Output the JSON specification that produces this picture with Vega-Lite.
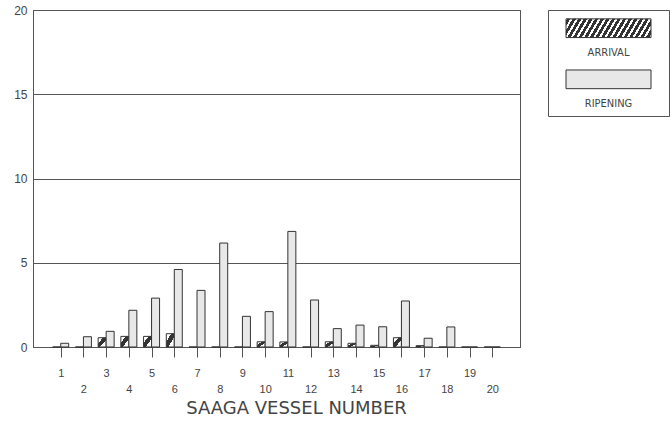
{
  "$schema": "https://vega.github.io/schema/vega-lite/v6.json",
  "background": "white",
  "padding": {"left": 13, "top": 3, "right": 0, "bottom": 0},
  "spacing": 28,
  "bounds": "flush",
  "config": {
    "view": {"stroke": "#555", "strokeWidth": 1},
    "font": "Liberation Sans",
    "axis": {"labelColor": "#444", "titleColor": "#444", "domainColor": "#555", "tickColor": "#555", "gridColor": "#555"}
  },
  "hconcat": [
    {
      "width": 487,
      "height": 337,
      "data": {"values": [
        {"vessel": 1, "series": "ARRIVAL", "value": 0}, {"vessel": 1, "series": "RIPENING", "value": 0.22},
        {"vessel": 2, "series": "ARRIVAL", "value": 0}, {"vessel": 2, "series": "RIPENING", "value": 0.61},
        {"vessel": 3, "series": "ARRIVAL", "value": 0.55}, {"vessel": 3, "series": "RIPENING", "value": 0.93},
        {"vessel": 4, "series": "ARRIVAL", "value": 0.63}, {"vessel": 4, "series": "RIPENING", "value": 2.18},
        {"vessel": 5, "series": "ARRIVAL", "value": 0.63}, {"vessel": 5, "series": "RIPENING", "value": 2.9},
        {"vessel": 6, "series": "ARRIVAL", "value": 0.79}, {"vessel": 6, "series": "RIPENING", "value": 4.6},
        {"vessel": 7, "series": "ARRIVAL", "value": 0}, {"vessel": 7, "series": "RIPENING", "value": 3.36},
        {"vessel": 8, "series": "ARRIVAL", "value": 0}, {"vessel": 8, "series": "RIPENING", "value": 6.17},
        {"vessel": 9, "series": "ARRIVAL", "value": 0}, {"vessel": 9, "series": "RIPENING", "value": 1.82},
        {"vessel": 10, "series": "ARRIVAL", "value": 0.31}, {"vessel": 10, "series": "RIPENING", "value": 2.1},
        {"vessel": 11, "series": "ARRIVAL", "value": 0.3}, {"vessel": 11, "series": "RIPENING", "value": 6.86},
        {"vessel": 12, "series": "ARRIVAL", "value": 0}, {"vessel": 12, "series": "RIPENING", "value": 2.79},
        {"vessel": 13, "series": "ARRIVAL", "value": 0.31}, {"vessel": 13, "series": "RIPENING", "value": 1.09},
        {"vessel": 14, "series": "ARRIVAL", "value": 0.22}, {"vessel": 14, "series": "RIPENING", "value": 1.3},
        {"vessel": 15, "series": "ARRIVAL", "value": 0.1}, {"vessel": 15, "series": "RIPENING", "value": 1.2},
        {"vessel": 16, "series": "ARRIVAL", "value": 0.55}, {"vessel": 16, "series": "RIPENING", "value": 2.73},
        {"vessel": 17, "series": "ARRIVAL", "value": 0.08}, {"vessel": 17, "series": "RIPENING", "value": 0.52},
        {"vessel": 18, "series": "ARRIVAL", "value": 0}, {"vessel": 18, "series": "RIPENING", "value": 1.19},
        {"vessel": 19, "series": "ARRIVAL", "value": 0}, {"vessel": 19, "series": "RIPENING", "value": 0},
        {"vessel": 20, "series": "ARRIVAL", "value": 0}, {"vessel": 20, "series": "RIPENING", "value": 0}
      ]},
      "encoding": {
        "x": {
          "field": "vessel", "type": "quantitative",
          "scale": {"domain": [0, 21], "nice": false, "zero": false},
          "axis": {
            "values": [1, 2, 3, 4, 5, 6, 7, 8, 9, 10, 11, 12, 13, 14, 15, 16, 17, 18, 19, 20],
            "title": "SAAGA VESSEL NUMBER",
            "grid": false,
            "tickSize": 10,
            "labelPadding": 10,
            "labelFontSize": 11,
            "labelLineHeight": 16,
            "labelExpr": "datum.value % 2 == 0 ? ['', datum.label] : datum.label",
            "labelOverlap": false,
            "labelFlush": false,
            "titleFont": "DejaVu Sans",
            "titleFontSize": 18,
            "titleFontWeight": "normal",
            "titlePadding": 5,
            "titleX": 263
          }
        },
        "y": {
          "field": "value", "type": "quantitative",
          "scale": {"domain": [0, 20], "nice": false},
          "axis": {"values": [0, 5, 10, 15, 20], "grid": true, "ticks": false, "labelPadding": 6, "labelFontSize": 12, "title": null}
        }
      },
      "layer": [
        {
          "transform": [{"filter": "datum.series == 'ARRIVAL'"}],
          "mark": {
            "type": "bar", "width": 8, "xOffset": -4, "stroke": "#333", "strokeWidth": 1,
            "fill": {"gradient": "linear", "x1": 0, "y1": 0, "x2": 1, "y2": 1, "stops": [
              {"offset": 0, "color": "#ffffff"}, {"offset": 0.3, "color": "#ffffff"},
              {"offset": 0.3, "color": "#333333"}, {"offset": 0.62, "color": "#333333"},
              {"offset": 0.62, "color": "#ffffff"}, {"offset": 1, "color": "#ffffff"}
            ]}
          }
        },
        {
          "transform": [{"filter": "datum.series == 'RIPENING'"}],
          "mark": {"type": "bar", "width": 8, "xOffset": 4, "fill": "#e8e8e8", "stroke": "#333", "strokeWidth": 1}
        }
      ]
    },
    {
      "width": 121,
      "height": 106,
      "data": {"values": [{"series": "ARRIVAL"}, {"series": "RIPENING"}]},
      "encoding": {
        "y": {"field": "series", "type": "nominal", "scale": {"type": "point", "domain": ["ARRIVAL", "RIPENING"], "padding": 0.537, "align": 0.332}, "axis": null}
      },
      "layer": [
        {
          "transform": [{"filter": "datum.series == 'ARRIVAL'"}],
          "mark": {
            "type": "point", "shape": "M-1,-0.22H1V0.22H-1Z", "size": 7225, "filled": true, "opacity": 1,
            "stroke": "#333", "strokeWidth": 1,
            "fill": {"gradient": "linear", "x1": 0, "y1": 0, "x2": 1.12, "y2": 0.145, "stops": [
              {"offset": 0, "color": "#ffffff"},
              {"offset": 0.010, "color": "#ffffff"}, {"offset": 0.010, "color": "#333333"}, {"offset": 0.044, "color": "#333333"}, {"offset": 0.044, "color": "#ffffff"},
              {"offset": 0.068, "color": "#ffffff"}, {"offset": 0.068, "color": "#333333"}, {"offset": 0.102, "color": "#333333"}, {"offset": 0.102, "color": "#ffffff"},
              {"offset": 0.126, "color": "#ffffff"}, {"offset": 0.126, "color": "#333333"}, {"offset": 0.160, "color": "#333333"}, {"offset": 0.160, "color": "#ffffff"},
              {"offset": 0.184, "color": "#ffffff"}, {"offset": 0.184, "color": "#333333"}, {"offset": 0.218, "color": "#333333"}, {"offset": 0.218, "color": "#ffffff"},
              {"offset": 0.242, "color": "#ffffff"}, {"offset": 0.242, "color": "#333333"}, {"offset": 0.276, "color": "#333333"}, {"offset": 0.276, "color": "#ffffff"},
              {"offset": 0.300, "color": "#ffffff"}, {"offset": 0.300, "color": "#333333"}, {"offset": 0.334, "color": "#333333"}, {"offset": 0.334, "color": "#ffffff"},
              {"offset": 0.358, "color": "#ffffff"}, {"offset": 0.358, "color": "#333333"}, {"offset": 0.392, "color": "#333333"}, {"offset": 0.392, "color": "#ffffff"},
              {"offset": 0.416, "color": "#ffffff"}, {"offset": 0.416, "color": "#333333"}, {"offset": 0.450, "color": "#333333"}, {"offset": 0.450, "color": "#ffffff"},
              {"offset": 0.474, "color": "#ffffff"}, {"offset": 0.474, "color": "#333333"}, {"offset": 0.508, "color": "#333333"}, {"offset": 0.508, "color": "#ffffff"},
              {"offset": 0.532, "color": "#ffffff"}, {"offset": 0.532, "color": "#333333"}, {"offset": 0.566, "color": "#333333"}, {"offset": 0.566, "color": "#ffffff"},
              {"offset": 0.590, "color": "#ffffff"}, {"offset": 0.590, "color": "#333333"}, {"offset": 0.624, "color": "#333333"}, {"offset": 0.624, "color": "#ffffff"},
              {"offset": 0.648, "color": "#ffffff"}, {"offset": 0.648, "color": "#333333"}, {"offset": 0.682, "color": "#333333"}, {"offset": 0.682, "color": "#ffffff"},
              {"offset": 0.706, "color": "#ffffff"}, {"offset": 0.706, "color": "#333333"}, {"offset": 0.740, "color": "#333333"}, {"offset": 0.740, "color": "#ffffff"},
              {"offset": 0.764, "color": "#ffffff"}, {"offset": 0.764, "color": "#333333"}, {"offset": 0.798, "color": "#333333"}, {"offset": 0.798, "color": "#ffffff"},
              {"offset": 0.822, "color": "#ffffff"}, {"offset": 0.822, "color": "#333333"}, {"offset": 0.856, "color": "#333333"}, {"offset": 0.856, "color": "#ffffff"},
              {"offset": 0.880, "color": "#ffffff"}, {"offset": 0.880, "color": "#333333"}, {"offset": 0.914, "color": "#333333"}, {"offset": 0.914, "color": "#ffffff"},
              {"offset": 0.938, "color": "#ffffff"}, {"offset": 0.938, "color": "#333333"}, {"offset": 0.972, "color": "#333333"}, {"offset": 0.972, "color": "#ffffff"},
              {"offset": 1, "color": "#ffffff"}
            ]}
          }
        },
        {
          "transform": [{"filter": "datum.series == 'RIPENING'"}],
          "mark": {"type": "point", "shape": "M-1,-0.22H1V0.22H-1Z", "size": 7225, "filled": true, "opacity": 1, "fill": "#e8e8e8", "stroke": "#333", "strokeWidth": 1}
        },
        {
          "mark": {"type": "text", "dy": 25, "font": "Liberation Sans Narrow, DejaVu Sans Condensed, Liberation Sans", "fontSize": 11, "color": "#444"},
          "encoding": {"text": {"field": "series"}}
        }
      ]
    }
  ]
}
